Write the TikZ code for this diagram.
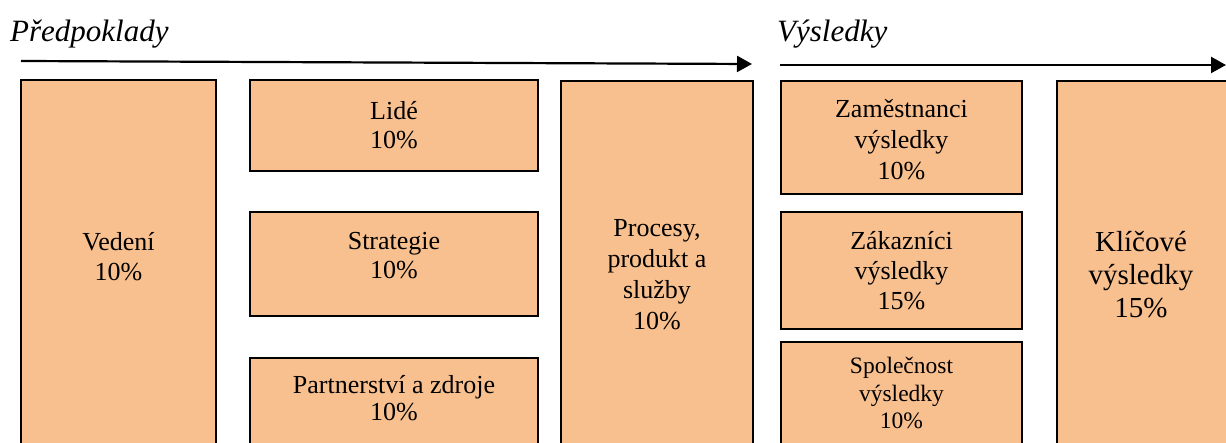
\documentclass[tikz,border=0pt]{standalone}
\usepackage{fontspec}
\setmainfont{Liberation Serif}
\usetikzlibrary{arrows.meta}
\definecolor{boxfill}{RGB}{249,192,143}
\tikzset{
  box/.style={draw=black, fill=boxfill, line width=1.3bp},
  lbl/.style={align=center, inner sep=0pt, font=\fontsize{26bp}{31bp}\selectfont},
  lblsmall/.style={lbl, font=\fontsize{23.5bp}{27.5bp}\selectfont},
  lblbig/.style={lbl, font=\fontsize{29bp}{33bp}\selectfont},
  heading/.style={anchor=base west, inner sep=0pt, font=\fontsize{31bp}{34bp}\selectfont\itshape},
  flow/.style={line width=2.2bp, -{Triangle[length=15bp,width=16bp]}}
}
\begin{document}
\begin{tikzpicture}[x=1bp, y=-1bp]
\useasboundingbox (0,0) rectangle (1226,443);
\clip (0,0) rectangle (1226,443);

% headings
\node[heading] (hpred) at (10,42) {Předpoklady};
\node[heading] (hvys)  at (777,42) {Výsledky};

% flow arrows
\coordinate (a1s) at (21,61);
\coordinate (a1e) at (752,64);
\coordinate (a2s) at (780,65);
\coordinate (a2e) at (1226,65);
\draw[flow] (a1s) -- (a1e);
\draw[flow] (a2s) -- (a2e);

% enablers
\draw[box] (21,80) rectangle (216,460);
\draw[box] (250,80) rectangle (538,171);
\draw[box] (250,212) rectangle (538,316);
\draw[box] (250,358) rectangle (538,460);
\draw[box] (561,81) rectangle (753,460);

% results
\draw[box] (781,81) rectangle (1022,194);
\draw[box] (781,212) rectangle (1022,329);
\draw[box] (781,342) rectangle (1022,460);
\draw[box] (1057,81) rectangle (1240,460);

% labels
\node[lbl] (vedeni) at (118.5,257) {Vedení\\[-1bp]10\%};
\node[lbl] (lide) at (394,125) {Lidé\\[-2bp]10\%};
\node[lbl] (strat) at (394,256) {Strategie\\[-2bp]10\%};
\node[lbl] (partn) at (394,398.5) {Partnerství a zdroje\\[-4bp]10\%};
\node[lbl] (proc) at (657,275) {Procesy,\\produkt a\\služby\\10\%};
\node[lbl] (zam) at (901.5,140) {Zaměstnanci\\výsledky\\10\%};
\node[lbl] (zak) at (901.5,271) {Zákazníci\\[-1bp]výsledky\\[-1bp]15\%};
\node[lblsmall] (spol) at (901.5,393) {Společnost\\výsledky\\10\%};
\node[lblbig] (klic) at (1141,275) {Klíčové\\výsledky\\15\%};
\end{tikzpicture}
\end{document}
